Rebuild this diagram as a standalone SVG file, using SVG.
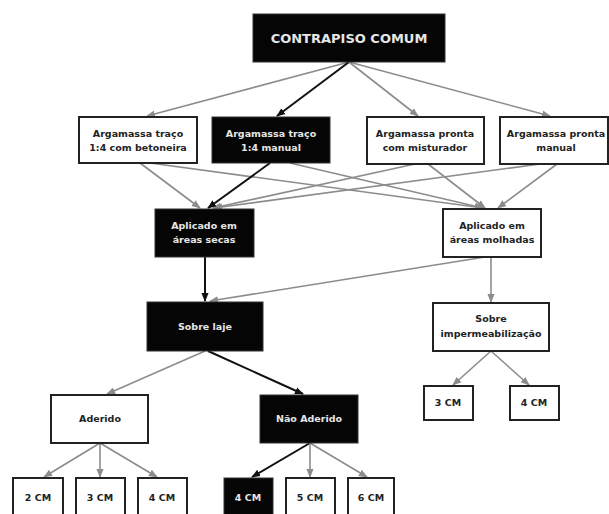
<svg xmlns="http://www.w3.org/2000/svg" width="609" height="514" viewBox="0 0 609 514">
<defs>
<style>
.bg{fill:#ffffff}
.wb rect{fill:#ffffff;stroke:#222;stroke-width:2}
.bb rect{fill:#050505;stroke:#333;stroke-width:1}
text{font-family:"DejaVu Sans","Liberation Sans",sans-serif;font-weight:bold;font-size:9.5px;text-anchor:middle}
.wb text{fill:#222}
.bb text{fill:#e6e6e6}
.g{stroke:#8c8c8c;stroke-width:1.6;fill:none;marker-end:url(#ag)}
.k{stroke:#111;stroke-width:2;fill:none;marker-end:url(#ak)}
</style>
<marker id="ag" viewBox="0 0 10 10" refX="9" refY="5" markerWidth="9" markerHeight="9" markerUnits="userSpaceOnUse" orient="auto"><path d="M0,1 L10,5 L0,9 Z" fill="#8c8c8c"/></marker>
<marker id="ak" viewBox="0 0 10 10" refX="9" refY="5" markerWidth="9" markerHeight="9" markerUnits="userSpaceOnUse" orient="auto"><path d="M0,1 L10,5 L0,9 Z" fill="#111"/></marker>
</defs>
<rect class="bg" x="0" y="0" width="609" height="514"/>
<g id="connectors">
<line class="g" x1="349" y1="62" x2="147" y2="116"/>
<line class="k" x1="349" y1="62" x2="277" y2="116"/>
<line class="g" x1="349" y1="62" x2="418" y2="116"/>
<line class="g" x1="349" y1="62" x2="550" y2="116"/>
<line class="g" x1="140" y1="163" x2="200" y2="208"/>
<line class="g" x1="150" y1="163" x2="483" y2="208"/>
<line class="g" x1="290" y1="163" x2="483" y2="208"/>
<line class="g" x1="415" y1="164" x2="213" y2="208"/>
<line class="g" x1="428" y1="164" x2="485" y2="208"/>
<line class="g" x1="540" y1="164" x2="214" y2="208"/>
<line class="g" x1="557" y1="164" x2="498" y2="208"/>
<line class="k" x1="270" y1="163" x2="208" y2="208"/>
<line class="k" x1="205" y1="257" x2="205" y2="301"/>
<line class="g" x1="485" y1="257" x2="210" y2="301"/>
<line class="g" x1="491" y1="257" x2="491" y2="302"/>
<line class="g" x1="205" y1="351" x2="107" y2="394"/>
<line class="k" x1="208" y1="351" x2="303" y2="394"/>
<line class="g" x1="100" y1="443" x2="44" y2="477"/>
<line class="g" x1="100" y1="443" x2="100" y2="477"/>
<line class="g" x1="100" y1="443" x2="157" y2="477"/>
<line class="k" x1="310" y1="443" x2="252" y2="477"/>
<line class="g" x1="310" y1="443" x2="310" y2="477"/>
<line class="g" x1="310" y1="443" x2="367" y2="477"/>
<line class="g" x1="491" y1="351" x2="453" y2="385"/>
<line class="g" x1="491" y1="351" x2="529" y2="385"/>
</g>
<g id="n-contrapiso" class="bb"><rect x="253" y="14" width="192" height="48"/><text x="349" y="43" style="font-size:13px">CONTRAPISO COMUM</text></g>
<g id="n-arg-betoneira" class="wb"><rect x="79" y="117" width="118" height="46"/><text x="138" y="137">Argamassa traço</text><text x="138" y="151">1:4 com betoneira</text></g>
<g id="n-arg-manual" class="bb"><rect x="212" y="117" width="118" height="46"/><text x="271" y="137">Argamassa traço</text><text x="271" y="151">1:4 manual</text></g>
<g id="n-pronta-misturador" class="wb"><rect x="367" y="117" width="117" height="47"/><text x="425" y="137">Argamassa pronta</text><text x="425" y="151">com misturador</text></g>
<g id="n-pronta-manual" class="wb"><rect x="500" y="117" width="108" height="47"/><text x="556" y="137">Argamassa pronta</text><text x="556" y="151">manual</text></g>
<g id="n-secas" class="bb"><rect x="155" y="209" width="99" height="48"/><text x="204" y="229">Aplicado em</text><text x="204" y="243">áreas secas</text></g>
<g id="n-molhadas" class="wb"><rect x="443" y="209" width="98" height="48"/><text x="492" y="229">Aplicado em</text><text x="492" y="243">áreas molhadas</text></g>
<g id="n-laje" class="bb"><rect x="147" y="302" width="116" height="49"/><text x="205" y="330">Sobre laje</text></g>
<g id="n-imperm" class="wb"><rect x="433" y="303" width="116" height="48"/><text x="491" y="322">Sobre</text><text x="491" y="337">impermeabilização</text></g>
<g id="n-aderido" class="wb"><rect x="51" y="395" width="97" height="48"/><text x="100" y="422">Aderido</text></g>
<g id="n-nao-aderido" class="bb"><rect x="260" y="395" width="98" height="48"/><text x="309" y="422">Não Aderido</text></g>
<g id="n-imp-3cm" class="wb"><rect x="424" y="386" width="49" height="34"/><text x="448" y="406">3 CM</text></g>
<g id="n-imp-4cm" class="wb"><rect x="510" y="386" width="49" height="34"/><text x="534" y="406">4 CM</text></g>
<g id="n-ad-2cm" class="wb"><rect x="13" y="478" width="50" height="42"/><text x="38" y="501">2 CM</text></g>
<g id="n-ad-3cm" class="wb"><rect x="76" y="478" width="49" height="42"/><text x="100" y="501">3 CM</text></g>
<g id="n-ad-4cm" class="wb"><rect x="138" y="478" width="49" height="42"/><text x="162" y="501">4 CM</text></g>
<g id="n-na-4cm" class="bb"><rect x="224" y="478" width="49" height="42"/><text x="248" y="501">4 CM</text></g>
<g id="n-na-5cm" class="wb"><rect x="286" y="478" width="49" height="42"/><text x="310" y="501">5 CM</text></g>
<g id="n-na-6cm" class="wb"><rect x="348" y="478" width="46" height="42"/><text x="371" y="501">6 CM</text></g>
</svg>
